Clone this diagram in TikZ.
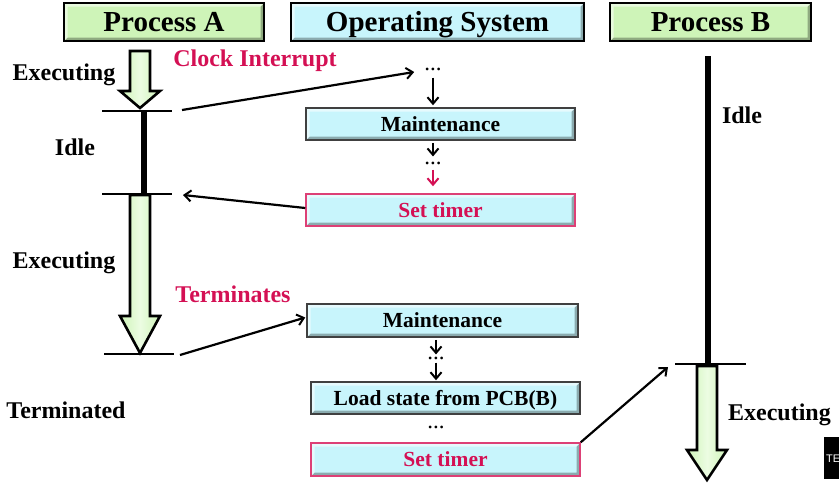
\documentclass[tikz,border=0pt]{standalone}
\usepackage{fontspec}
\setmainfont{Liberation Serif}
\newfontfamily\tefont{Liberation Sans}
\usetikzlibrary{arrows.meta,calc}
\definecolor{crim}{RGB}{212,16,84}
\definecolor{cyanf}{RGB}{200,245,252}
\definecolor{greenf}{RGB}{206,244,184}
\definecolor{greenl}{RGB}{236,252,226}
\begin{document}
\begin{tikzpicture}[x=1pt,y=-1pt,
  bevel/.style={path picture={
    \fill[black,opacity=0.3] (path picture bounding box.south west) -- (path picture bounding box.south east) -- (path picture bounding box.north east) -- ([xshift=-3.5pt,yshift=-3.5pt]path picture bounding box.north east) -- ([xshift=-3.5pt,yshift=3.5pt]path picture bounding box.south east) -- ([xshift=3.5pt,yshift=3.5pt]path picture bounding box.south west) -- cycle;
    \fill[white,opacity=0.55] (path picture bounding box.south west) -- (path picture bounding box.north west) -- (path picture bounding box.north east) -- ([xshift=-3.5pt,yshift=-3.5pt]path picture bounding box.north east) -- ([xshift=3.5pt,yshift=-3.5pt]path picture bounding box.north west) -- ([xshift=3.5pt,yshift=3.5pt]path picture bounding box.south west) -- cycle;
  }},
  hdr/.style={draw=black, line width=2.2pt, inner sep=0pt, minimum height=38pt, bevel,
    text height=19pt, text depth=0pt,
    font=\bfseries\fontsize{29}{29}\selectfont},
  opbox/.style={draw=black!75, line width=1.5pt, fill=cyanf, inner sep=0pt, minimum height=32pt, bevel,
    text height=14.2pt, text depth=0pt,
    font=\bfseries\fontsize{21.5}{21.5}\selectfont},
  redbox/.style={opbox, draw=crim!80, text=crim},
  lbl/.style={font=\bfseries\fontsize{24}{24}\selectfont, anchor=base, inner sep=0pt},
  dots/.style={font=\fontsize{23}{23}\selectfont, inner sep=0pt},
  conn/.style={line width=2.2pt, -{Straight Barb[length=6.5pt,width=11pt,line width=2pt]}},
  tick/.style={line width=2.6pt},
  bar/.style={line width=6pt},
  blockarrow/.style={draw=black, line width=2.6pt, line join=miter, left color=greenf, right color=greenf, middle color=greenl}
]
\useasboundingbox (0,0) rectangle (839,483);

% headers
\node[hdr, fill=greenf, minimum width=200pt] (pa) at (164,22) {Process A};
\node[hdr, fill=cyanf, minimum width=293pt] (os) at (437.5,22) {Operating System};
\node[hdr, fill=greenf, minimum width=201pt] (pb) at (710.5,22) {Process B};

% labels
\node[lbl, text=crim] (ci) at (255,66) {Clock Interrupt};
\node[lbl] (exa1) at (64,80) {Executing};
\node[lbl] (idla) at (75,155) {Idle};
\node[lbl] (exa2) at (64,268) {Executing};
\node[lbl, text=crim] (term) at (233,302) {Terminates};
\node[lbl] (tmd) at (66,418) {Terminated};
\node[lbl] (idlb) at (742,123) {Idle};
\node[lbl] (exb) at (779.5,420) {Executing};

% Process A timeline
\draw[blockarrow] (130,51) -- (150,51) -- (150,91) -- (160,91) -- (140,108) -- (120,91) -- (130,91) -- cycle;
\coordinate (t1l) at (102,111); \coordinate (t1r) at (172,111);
\coordinate (t2l) at (102,194); \coordinate (t2r) at (172,194);
\coordinate (t3l) at (104,354); \coordinate (t3r) at (174,354);
\draw[bar] (143.5,111) -- (143.5,194);
\draw[tick] (t1l) -- (t1r);
\draw[tick] (t2l) -- (t2r);
\draw[blockarrow] (130,195) -- (150,195) -- (150,316) -- (160,316) -- (140,353) -- (120,316) -- (130,316) -- cycle;
\draw[tick] (t3l) -- (t3r);

% OS column
\node[dots] (d1) at (433,69) {...};
\node[opbox, minimum width=269pt] (m1) at (440.5,124) {Maintenance};
\node[dots] (d2) at (433,163) {...};
\node[redbox, minimum width=269pt] (s1) at (440.5,210) {Set timer};
\node[opbox, minimum width=271pt, minimum height=33pt] (m2) at (442.5,320.5) {Maintenance};
\node[dots] (d3) at (436,358) {...};
\node[opbox, minimum width=269pt] (ld) at (445.5,398) {Load state from PCB(B)};
\node[dots] (d4) at (436,427) {...};
\node[redbox, minimum width=269pt, minimum height=33pt] (s2) at (445.5,459.5) {Set timer};

\draw[conn, shorten <=7pt, shorten >=2pt] (d1.south) -- (d1.south |- m1.north);
\draw[conn, shorten <=2pt, shorten >=5pt] (d2.north |- m1.south) -- (d2.north);
\draw[conn, crim, shorten <=5pt, shorten >=7pt] (d2.south) -- (d2.south |- s1.north);
\draw[conn, shorten <=2pt, shorten >=2pt] (d3.north |- m2.south) -- (d3.north);
\draw[conn, shorten <=3pt, shorten >=1pt] (d3.south) -- (d3.south |- ld.north);

% Process B timeline
\coordinate (btop) at (707.5,56);
\coordinate (t4l) at (675,364); \coordinate (t4r) at (746,364);
\draw[bar] (btop) -- (707.5,364);
\draw[tick] (t4l) -- (t4r);
\draw[blockarrow] (697,366) -- (717,366) -- (717,450) -- (727,450) -- (707,480) -- (687,450) -- (697,450) -- cycle;

% cross connectors
\coordinate (cistart) at (182,110);
\coordinate (a2end) at (183,195);
\coordinate (tstart) at (180,355);
\coordinate (bend) at (668,367);
\draw[conn] (cistart) -- ([xshift=-10pt,yshift=-3pt]d1.west);
\draw[conn] ([yshift=2pt]s1.west) -- (a2end);
\draw[conn] (tstart) -- ([xshift=-1pt,yshift=3pt]m2.west);
\draw[conn] (s2.north east) -- (bend);

% cropped corner box
\node[fill=black, inner sep=0pt, minimum width=20pt, minimum height=42pt, anchor=north west] (te) at (824,437) {};
\node[text=white, font=\tefont\fontsize{11}{11}\selectfont, anchor=west, inner sep=0pt] (tetxt) at (826,459) {TE};
\end{tikzpicture}
\end{document}
